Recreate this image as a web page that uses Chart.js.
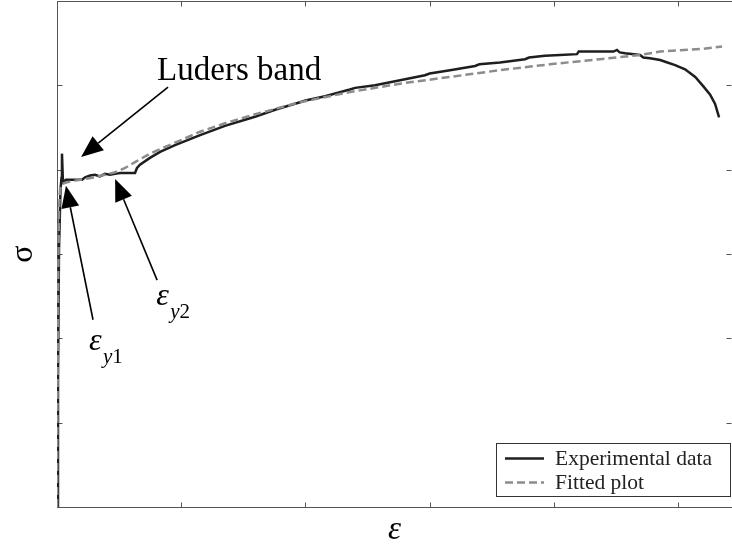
<!DOCTYPE html>
<html>
<head>
<meta charset="utf-8">
<script src="https://cdn.jsdelivr.net/npm/chart.js@4.4.1/dist/chart.umd.min.js"></script>
<style>
  html, body { margin: 0; padding: 0; background: #fff; }
  canvas { display: block; }
</style>
</head>
<body>
<canvas id="chart" width="732" height="553"></canvas>
<script>
const SERIF = "'Liberation Serif', 'Times New Roman', serif";

// Tensile test: strain (-) against stress (MPa)
const expStrain = [0, 0.0004, 0.0008, 0.0014, 0.0018, 0.0020, 0.0024, 0.0036, 0.0072, 0.0101, 0.0113, 0.0133,
  0.0153, 0.0173, 0.0193, 0.0213, 0.0234, 0.0254, 0.0294, 0.0314, 0.0322, 0.0334, 0.0374, 0.0415, 0.0475,
  0.0576, 0.0676, 0.0777, 0.0800, 0.0878, 0.0978, 0.1000, 0.1079, 0.1179, 0.1200, 0.1280, 0.1381, 0.1481,
  0.1500, 0.1582, 0.1683, 0.1700, 0.1783, 0.1884, 0.1900, 0.1964, 0.2025, 0.2093, 0.2100, 0.2186, 0.2240,
  0.2254, 0.2265, 0.2287, 0.2347, 0.2360, 0.2387, 0.2428, 0.2448, 0.2488, 0.2528, 0.2569, 0.2601, 0.2629,
  0.2649, 0.2665];
const expStress = [0, 151, 305, 376, 390, 419, 385, 388, 388, 388, 391, 393,
  394, 392, 395, 394, 395, 396, 396, 396, 402, 406, 414, 421, 429,
  441, 452, 461, 463, 471, 480, 482, 487, 495, 497, 500, 506, 512,
  514, 518, 523, 525, 527, 531, 533, 535, 536, 537, 540, 540, 540,
  542, 539, 538, 536, 533, 532, 530, 528, 524, 519, 510, 499, 489,
  478, 462];

const fitStrain = [0, 0.0002, 0.0004, 0.0008, 0.0012, 0.0020, 0.0040, 0.0072, 0.0113, 0.0153, 0.0193, 0.0234,
  0.0274, 0.0314, 0.0374, 0.0443, 0.0507, 0.0576, 0.0676, 0.0777, 0.0878, 0.0978, 0.1179, 0.1381, 0.1582,
  0.1783, 0.1985, 0.2186, 0.2347, 0.2428, 0.2589, 0.2677];
const fitStress = [0, 127, 246, 352, 376, 383, 385, 387, 389, 391, 394, 397,
  402, 409, 419, 428, 436, 445, 455, 464, 472, 480, 492, 502, 510,
  518, 525, 531, 536, 540, 543, 546];

const strainTicks = [0, 0.05, 0.10, 0.15, 0.20, 0.25];
const stressTicks = [0, 100, 200, 300, 400, 500, 600];
const seriesNames = ['Experimental data', 'Fitted plot'];

// Annotation arrows and labels, placed in data units (strain, stress)
const ludersArrow = { tail: [0.0447, 498], tip: [0.0097, 415] };
const ludersLabel = { at: [0.0403, 506], text: 'Luders band' };
const ey1Arrow = { tail: [0.0145, 222], tip: [0.0036, 381] };
const ey1Label = { at: [0.0129, 186], sub: ['y', '1'] };
const ey2Arrow = { tail: [0.0403, 269], tip: [0.0234, 389] };
const ey2Label = { at: [0.0399, 240], sub: ['y', '2'] };

const toXY = (xs, ys) => xs.map((x, i) => ({ x: x, y: ys[i] }));

// Box frame with inward ticks on all four sides
const framePlugin = {
  id: 'frame',
  beforeDatasetsDraw(chart) {
    const { ctx, chartArea: a, scales: { x, y } } = chart;
    const L = Math.round(a.left) + 0.5, R = Math.round(a.right) + 0.5;
    const T = Math.round(a.top) + 0.5, B = Math.round(a.bottom) + 0.5;
    ctx.save();
    ctx.strokeStyle = '#555';
    ctx.lineWidth = 1;
    ctx.beginPath();
    ctx.rect(L, T, R - L, B - T);
    const len = 5;
    strainTicks.forEach(v => {
      const px = Math.round(x.getPixelForValue(v)) + 0.5;
      ctx.moveTo(px, B); ctx.lineTo(px, B - len);
      ctx.moveTo(px, T); ctx.lineTo(px, T + len);
    });
    stressTicks.forEach(v => {
      const py = Math.round(y.getPixelForValue(v)) + 0.5;
      ctx.moveTo(L, py); ctx.lineTo(L + len, py);
      ctx.moveTo(R - 1, py); ctx.lineTo(R - 1 - len, py);
    });
    ctx.stroke();
    ctx.restore();
  }
};

function drawArrow(ctx, x, y, arrow) {
  const tx = x.getPixelForValue(arrow.tail[0]), ty = y.getPixelForValue(arrow.tail[1]);
  const hx = x.getPixelForValue(arrow.tip[0]), hy = y.getPixelForValue(arrow.tip[1]);
  const ang = Math.atan2(hy - ty, hx - tx);
  const headLen = 22, headHalf = 9;
  const bx = hx - headLen * Math.cos(ang), by = hy - headLen * Math.sin(ang);
  ctx.beginPath();
  ctx.moveTo(tx, ty);
  ctx.lineTo(bx, by);
  ctx.lineWidth = 1.6;
  ctx.strokeStyle = '#000';
  ctx.stroke();
  ctx.beginPath();
  ctx.moveTo(hx, hy);
  ctx.lineTo(bx + headHalf * Math.sin(ang), by - headHalf * Math.cos(ang));
  ctx.lineTo(bx - headHalf * Math.sin(ang), by + headHalf * Math.cos(ang));
  ctx.closePath();
  ctx.fillStyle = '#000';
  ctx.fill();
}

function drawStrainLabel(ctx, x, y, lab) {
  const px = x.getPixelForValue(lab.at[0]), py = y.getPixelForValue(lab.at[1]);
  ctx.fillStyle = '#000';
  ctx.textBaseline = 'alphabetic';
  ctx.textAlign = 'left';
  ctx.font = `italic 32px ${SERIF}`;
  ctx.fillText('ε', px, py);
  const sx = px + 14, sy = py + 13;
  ctx.font = `italic 21px ${SERIF}`;
  ctx.fillText(lab.sub[0], sx, sy);
  const w = ctx.measureText(lab.sub[0]).width;
  ctx.font = `21px ${SERIF}`;
  ctx.fillText(lab.sub[1], sx + w, sy);
}

const annotationPlugin = {
  id: 'notes',
  afterDatasetsDraw(chart) {
    const { ctx, scales: { x, y } } = chart;
    ctx.save();
    drawArrow(ctx, x, y, ludersArrow);
    drawArrow(ctx, x, y, ey1Arrow);
    drawArrow(ctx, x, y, ey2Arrow);
    ctx.fillStyle = '#000';
    ctx.font = `33px ${SERIF}`;
    ctx.textBaseline = 'alphabetic';
    ctx.textAlign = 'left';
    ctx.fillText(ludersLabel.text, x.getPixelForValue(ludersLabel.at[0]), y.getPixelForValue(ludersLabel.at[1]));
    drawStrainLabel(ctx, x, y, ey1Label);
    drawStrainLabel(ctx, x, y, ey2Label);
    ctx.restore();
  }
};

// Boxed legend in the lower-right corner of the plot
const boxLegendPlugin = {
  id: 'boxLegend',
  afterDraw(chart) {
    const { ctx, chartArea: a } = chart;
    const right = a.right - 2, bottom = a.bottom - 11;
    const w = 234, h = 53;
    const left = right - w, top = bottom - h;
    ctx.save();
    ctx.fillStyle = '#fff';
    ctx.fillRect(left, top, w, h);
    ctx.strokeStyle = '#333';
    ctx.lineWidth = 1;
    ctx.strokeRect(Math.round(left) + 0.5, Math.round(top) + 0.5, w, h);
    chart.data.datasets.forEach((ds, i) => {
      const rowY = top + 15.5 + i * 24;
      ctx.beginPath();
      ctx.setLineDash(ds.borderDash || []);
      ctx.strokeStyle = ds.borderColor;
      ctx.lineWidth = ds.borderWidth;
      ctx.moveTo(left + 9, rowY);
      ctx.lineTo(left + 48, rowY);
      ctx.stroke();
      ctx.setLineDash([]);
      ctx.fillStyle = '#222';
      ctx.font = `21.5px ${SERIF}`;
      ctx.textBaseline = 'middle';
      ctx.textAlign = 'left';
      ctx.fillText(ds.label, left + 59, rowY + 1);
    });
    ctx.restore();
  }
};

new Chart(document.getElementById('chart'), {
  type: 'line',
  data: {
    datasets: [
      {
        label: seriesNames[0],
        data: toXY(expStrain, expStress),
        borderColor: '#1e1e1e',
        borderWidth: 2.5,
        pointRadius: 0,
        tension: 0,
        order: 1
      },
      {
        label: seriesNames[1],
        data: toXY(fitStrain, fitStress),
        borderColor: '#8c8c8c',
        borderWidth: 2.5,
        borderDash: [8, 4],
        pointRadius: 0,
        tension: 0,
        order: 0
      }
    ]
  },
  options: {
    responsive: false,
    animation: false,
    devicePixelRatio: 1,
    layout: { padding: { top: 1, right: 0, left: 0, bottom: 0 } },
    plugins: { legend: { display: false }, tooltip: { enabled: false } },
    scales: {
      x: {
        type: 'linear',
        min: 0,
        max: 0.2717,
        ticks: { display: false, stepSize: 0.05 },
        grid: { display: false },
        border: { display: false },
        title: {
          display: true,
          text: 'ε',
          color: '#000',
          font: { family: SERIF, size: 33, style: 'italic' },
          padding: { top: 0, bottom: 3 }
        },
        afterFit(scale) { scale.height = 46; }
      },
      y: {
        type: 'linear',
        min: 0,
        max: 600,
        ticks: { display: false, stepSize: 100 },
        grid: { display: false },
        border: { display: false },
        title: {
          display: true,
          text: 'σ',
          color: '#000',
          font: { family: SERIF, size: 32 },
          padding: { top: 4, bottom: 0 }
        },
        afterFit(scale) { scale.width = 57; }
      }
    }
  },
  plugins: [framePlugin, annotationPlugin, boxLegendPlugin]
});
</script>
</body>
</html>
